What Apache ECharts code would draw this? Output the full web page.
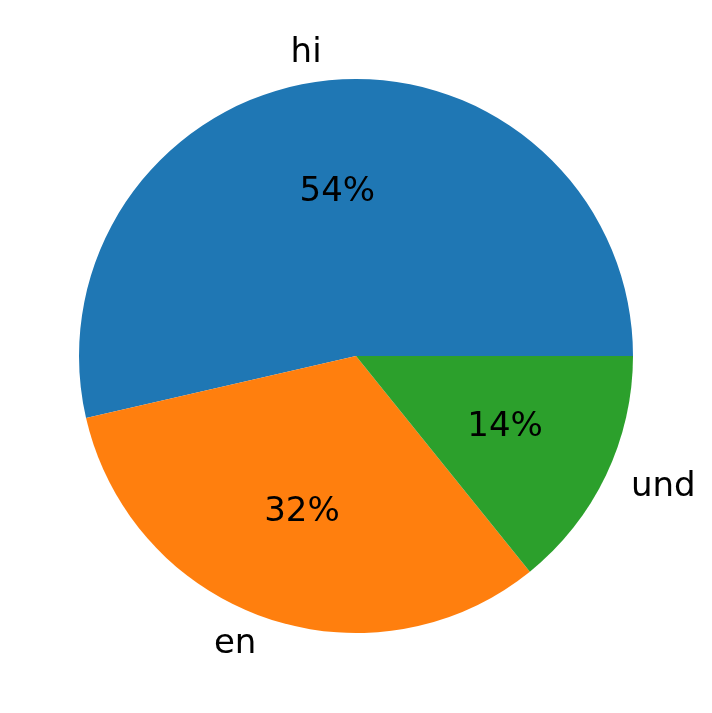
<!DOCTYPE html>
<html>
<head>
  <meta charset="UTF-8" />
  <title>Language pie</title>
  <script src="https://cdn.jsdelivr.net/npm/echarts@6/dist/echarts.min.js"></script>
  <style>
    html, body { margin: 0; padding: 0; background: #fff; }
    #myChart { width: 712px; height: 713px; }
  </style>
</head>
<body>
  <div id="myChart"></div>
  <script>
    const labels = ['hi', 'en', 'und'];
    const values = [53.6, 32.2, 14.2];
    const colors = ['#1f77b4', '#ff7f0e', '#2ca02c'];

    const R = 277;
    const chart = echarts.init(document.getElementById('myChart'));
    const data = labels.map((name, i) => ({ name: name, value: values[i] }));

    chart.setOption({
      animation: false,
      textStyle: { fontFamily: 'DejaVu Sans' },
      series: [
        {
          // wedges + name labels at 1.1 R
          type: 'pie',
          center: [356, 356],
          radius: [0, R],
          startAngle: 0,
          clockwise: false,
          avoidLabelOverlap: false,
          data: data.map((d, i) => ({ ...d, itemStyle: { color: colors[i] } })),
          itemStyle: { borderWidth: 0 },
          label: {
            show: true,
            position: 'outside',
            formatter: '{b}',
            color: '#000',
            fontSize: 34,
            fontFamily: 'DejaVu Sans',
            distanceToLabelLine: 0
          },
          labelLine: { show: false, length: R * 0.1, length2: 0 },
          emphasis: { disabled: true }
        },
        {
          // transparent ring so percent labels sit at about 0.6 R
          type: 'pie',
          center: [356, 356],
          radius: [R * 0.2 - 4, R - 4],
          startAngle: 0,
          clockwise: false,
          silent: true,
          data: data,
          itemStyle: { color: 'rgba(0,0,0,0)', borderWidth: 0 },
          label: {
            show: true,
            position: 'inside',
            formatter: p => Math.round(p.percent) + '%',
            color: '#000',
            fontSize: 34,
            fontFamily: 'DejaVu Sans'
          },
          labelLine: { show: false },
          emphasis: { disabled: true }
        }
      ]
    });
  </script>
</body>
</html>
